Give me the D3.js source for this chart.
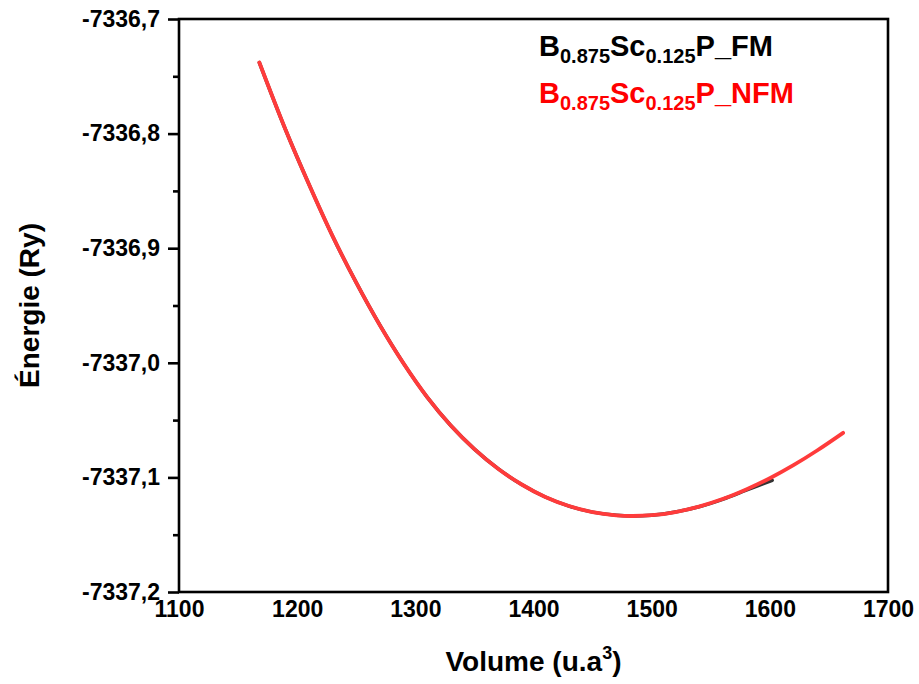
<!DOCTYPE html>
<html>
<head>
<meta charset="utf-8">
<script src="https://cdn.jsdelivr.net/npm/d3@7"></script>
<style>
  html, body { margin: 0; padding: 0; background: #fff; }
  svg text { font-family: "Liberation Sans", Arial, sans-serif; font-weight: bold; }
</style>
</head>
<body>
<svg id="chart" width="919" height="684"></svg>
<script>
// ---- data ----
const volumeNFM = [1168, 1190, 1210, 1230, 1250, 1270, 1290, 1310, 1330, 1350, 1370, 1390, 1410, 1430, 1450, 1470, 1484, 1500, 1520, 1540, 1560, 1580, 1600, 1620, 1640, 1662];
const energyNFM = [-7336.7380, -7336.7962, -7336.8443, -7336.8895, -7336.9301, -7336.9672, -7337.0005, -7337.0299, -7337.0547, -7337.0753, -7337.0924, -7337.1062, -7337.1171, -7337.1250, -7337.1303, -7337.1331, -7337.1337, -7337.1330, -7337.1302, -7337.1255, -7337.1189, -7337.1105, -7337.1007, -7337.0893, -7337.0765, -7337.0611];
const volumeFM = [1168, 1190, 1210, 1230, 1250, 1270, 1290, 1310, 1330, 1350, 1370, 1390, 1410, 1430, 1450, 1470, 1484, 1500, 1520, 1540, 1560, 1580, 1602];
const energyFM = [-7336.7380, -7336.7962, -7336.8443, -7336.8895, -7336.9301, -7336.9672, -7337.0005, -7337.0299, -7337.0547, -7337.0753, -7337.0924, -7337.1062, -7337.1171, -7337.1250, -7337.1303, -7337.1331, -7337.1337, -7337.1330, -7337.1302, -7337.1256, -7337.1191, -7337.1112, -7337.1025];
const xTicks = [1100, 1200, 1300, 1400, 1500, 1600, 1700];
const yTicks = [-7336.7, -7336.8, -7336.9, -7337.0, -7337.1, -7337.2];
const yMinorTicks = [-7336.75, -7336.85, -7336.95, -7337.05, -7337.15];
const seriesNames = ["FM", "NFM"];

// ---- layout ----
const svg = d3.select("#chart");
const pLeft = 179, pRight = 888, pTop = 19, pBottom = 592;
const x = d3.scaleLinear().domain([1100, 1700]).range([pLeft, pRight]);
const y = d3.scaleLinear().domain([-7337.2, -7336.7]).range([pBottom, pTop]);

// frame
svg.append("rect")
  .attr("x", pLeft).attr("y", pTop)
  .attr("width", pRight - pLeft).attr("height", pBottom - pTop)
  .attr("fill", "none").attr("stroke", "#000").attr("stroke-width", 2.6);

// y axis
const fmt = d => d3.format(".1f")(d).replace(".", ",").replace("\u2212", "-");
const yAxis = svg.append("g").attr("transform", `translate(${pLeft},0)`)
  .call(d3.axisLeft(y).tickValues(yTicks).tickFormat(fmt).tickSize(11).tickPadding(8));
yAxis.select(".domain").remove();
yAxis.selectAll(".tick line").attr("stroke", "#000").attr("stroke-width", 2.6);
yAxis.selectAll(".tick text").attr("font-size", 23).attr("fill", "#000")
  .style("font-family", '"Liberation Sans", Arial, sans-serif').style("font-weight", "bold");

const yMinor = svg.append("g").attr("transform", `translate(${pLeft},0)`)
  .call(d3.axisLeft(y).tickValues(yMinorTicks).tickFormat("").tickSize(6));
yMinor.select(".domain").remove();
yMinor.selectAll(".tick line").attr("stroke", "#000").attr("stroke-width", 2.6);

// x axis (labels only)
const xAxis = svg.append("g").attr("transform", `translate(0,${pBottom})`)
  .call(d3.axisBottom(x).tickValues(xTicks).tickFormat(d3.format("d")).tickSize(0).tickPadding(9));
xAxis.select(".domain").remove();
xAxis.selectAll(".tick text").attr("font-size", 23).attr("fill", "#000")
  .style("font-family", '"Liberation Sans", Arial, sans-serif').style("font-weight", "bold");

// axis titles
const xt = svg.append("text")
  .attr("x", (pLeft + pRight) / 2).attr("y", 671)
  .attr("text-anchor", "middle").attr("font-size", 28).attr("fill", "#000");
xt.append("tspan").text("Volume (u.a");
xt.append("tspan").attr("font-size", 18).attr("dy", -12).text("3");
xt.append("tspan").attr("dy", 12).text(")");

svg.append("text")
  .attr("transform", `translate(39,${(pTop + pBottom) / 2}) rotate(-90)`)
  .attr("text-anchor", "middle").attr("font-size", 28).attr("fill", "#000")
  .text("Énergie (Ry)");

// curves
const line = d3.line().x(d => x(d[0])).y(d => y(d[1])).curve(d3.curveCatmullRom.alpha(0.5));
const fmData = volumeFM.map((v, i) => [v, energyFM[i]]);
const nfmData = volumeNFM.map((v, i) => [v, energyNFM[i]]);
svg.append("path").datum(fmData).attr("d", line)
  .attr("fill", "none").attr("stroke", "#333").attr("stroke-width", 3.5).attr("stroke-linecap", "round");
svg.append("path").datum(nfmData).attr("d", line)
  .attr("fill", "none").attr("stroke", "#ff3b3b").attr("stroke-width", 3.8).attr("stroke-linecap", "round");

// legend
const legendColors = ["#000", "#ff0000"];
seriesNames.forEach((name, i) => {
  const t = svg.append("text").attr("x", 539).attr("y", 56 + i * 47)
    .attr("font-size", 29).attr("fill", legendColors[i]);
  t.append("tspan").text("B");
  t.append("tspan").attr("font-size", 20).attr("dy", 7).text("0.875");
  t.append("tspan").attr("dy", -7).text("Sc");
  t.append("tspan").attr("font-size", 20).attr("dy", 7).text("0.125");
  t.append("tspan").attr("dy", -7).text("P_" + name);
});
</script>
</body>
</html>
